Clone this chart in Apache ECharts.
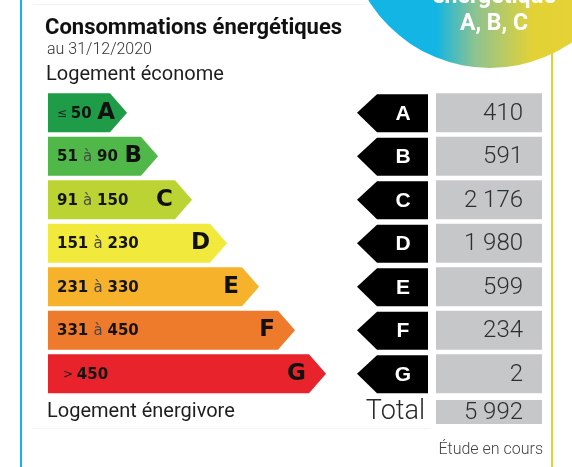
<!DOCTYPE html>
<html><head><meta charset="utf-8">
<script src="https://cdn.jsdelivr.net/npm/echarts@6/dist/echarts.min.js"></script>
<style>html,body{margin:0;padding:0;background:#fff}#c{width:572px;height:467px}</style>
</head><body><div id="c"></div>
<script>
// ---- data ----
const classes = ['A', 'B', 'C', 'D', 'E', 'F', 'G'];
const rangeText = ['≤ 50', '51 à 90', '91 à 150', '151 à 230', '231 à 330', '331 à 450', '> 450'];
const arrowLength = [79, 110, 144, 179, 211, 247, 278];   // relative length of each label arrow
const housingCount = [410, 591, 2176, 1980, 599, 234, 2];
const totalCount = 5992;
const classColors = ['#1e9c48', '#4fb848', '#bcd433', '#f1e93b', '#f6b22a', '#ee7a2b', '#e8232b'];
// style: inset of the class letter from the arrow tip
const letterInset = [12, 16, 19, 17, 20, 20, 20];

const fmt = n => String(n).replace(/\B(?=(\d{3})+(?!\d))/g, ' ');

function rangeRich(t) {
  const parts = t.split(' ');
  return parts.map((p, k) => {
    const sp = k < parts.length - 1 ? ' ' : '';
    if (p === 'à') return '{a|à' + sp + '}';
    if (p === '≤' || p === '>') return '{s|' + p + sp + '}';
    return '{n|' + p + sp + '}';
  }).join('');
}

const chart = echarts.init(document.getElementById('c'), null, {renderer: 'canvas'});

const option = {
  animation: false,
  backgroundColor: '#ffffff',
  grid: [
    {left: 48, top: 91, width: 280, height: 304.5},
    {left: 357, top: 91, width: 185, height: 304.5},
    {left: 436, top: 400, width: 106, height: 24}
  ],
  xAxis: [
    {gridIndex: 0, type: 'value', min: 0, max: 280, show: false},
    {gridIndex: 1, type: 'value', min: 0, max: 1, show: false},
    {gridIndex: 2, type: 'value', min: 0, max: 1, show: false}
  ],
  yAxis: [
    {gridIndex: 0, type: 'category', data: classes, inverse: true, show: false},
    {gridIndex: 1, type: 'category', data: classes, inverse: true, show: false},
    {gridIndex: 2, type: 'category', data: ['Total'], inverse: true,
      axisLine: {show: false}, axisTick: {show: false}, splitLine: {show: false},
      axisLabel: {margin: 11, fontFamily: 'Roboto', fontWeight: 300, fontSize: 27, color: '#2a2a2a'}}
  ],
  series: [
    {
      type: 'custom', xAxisIndex: 0, yAxisIndex: 0,
      data: arrowLength.map((v, i) => [v, i]),
      renderItem: function (params, api) {
        const i = api.value(1);
        const tip = api.coord([api.value(0), i]);
        const start = api.coord([0, i]);
        const h = api.size([0, 1])[1] * 0.9;
        const yc = tip[1], y0 = yc - h / 2, y1 = yc + h / 2;
        const xr = tip[0] - 17;
        const lead = (i === 6) ? 6 : 0;
        return {type: 'group', children: [
          {type: 'polygon', shape: {points: [[start[0], y0], [xr, y0], [tip[0], yc], [xr, y1], [start[0], y1]]},
            style: {fill: classColors[i]}},
          {type: 'text', style: {
            text: rangeRich(rangeText[i]), x: start[0] + 9 + lead, y: yc + 1, verticalAlign: 'middle',
            rich: {
              n: {fontFamily: 'DejaVu Sans', fontWeight: 'bold', fontSize: 15, fill: '#141414'},
              a: {fontFamily: 'DejaVu Sans', fontWeight: 'normal', fontSize: 15, fill: '#4a4a4a'},
              s: {fontFamily: 'DejaVu Sans', fontWeight: 'normal', fontSize: 12, fill: '#222'}
            }}},
          {type: 'text', style: {
            text: classes[i], x: tip[0] - letterInset[i], y: yc, align: 'right', verticalAlign: 'middle',
            fontFamily: 'DejaVu Sans', fontWeight: 'bold', fontSize: 23, fill: '#111'}}
        ]};
      }
    },
    {
      type: 'custom', xAxisIndex: 1, yAxisIndex: 1,
      data: housingCount.map((v, i) => [v, i]),
      renderItem: function (params, api) {
        const i = api.value(1);
        const cs = params.coordSys;
        const c = api.coord([0, i]);
        const h = api.size([0, 1])[1] * 0.9;
        const yc = c[1], y0 = yc - h / 2, y1 = yc + h / 2;
        const x0 = cs.x;
        return {type: 'group', children: [
          {type: 'polygon', shape: {points: [[x0, yc], [x0 + 20, y0 + 1], [x0 + 71, y0 + 1], [x0 + 71, y1], [x0 + 20, y1]]},
            style: {fill: '#000'}},
          {type: 'text', style: {text: classes[i], x: x0 + 46, y: yc + 1, align: 'center', verticalAlign: 'middle',
            fontFamily: 'Liberation Sans', fontWeight: 'bold', fontSize: 21, fill: '#fff'}},
          {type: 'rect', shape: {x: x0 + 79, y: y0, width: cs.width - 79, height: h},
            style: {fill: '#c6c7c9'}},
          {type: 'text', style: {text: fmt(api.value(0)), x: x0 + cs.width - 19, y: yc + 1, align: 'right', verticalAlign: 'middle',
            fontFamily: 'Roboto', fontWeight: 300, fontSize: 24, fill: '#2e2e2e'}}
        ]};
      }
    },
    {
      type: 'custom', xAxisIndex: 2, yAxisIndex: 2,
      data: [[totalCount, 0]],
      renderItem: function (params, api) {
        const cs = params.coordSys;
        return {type: 'group', children: [
          {type: 'rect', shape: {x: cs.x, y: cs.y, width: cs.width, height: cs.height}, style: {fill: '#c6c7c9'}},
          {type: 'text', style: {text: fmt(api.value(0)), x: cs.x + cs.width - 19, y: cs.y + cs.height / 2 + 1,
            align: 'right', verticalAlign: 'middle', fontFamily: 'Roboto', fontWeight: 300, fontSize: 24, fill: '#2e2e2e'}}
        ]};
      }
    }
  ],
  graphic: [
    {type: 'rect', shape: {x: 20, y: 0, width: 2, height: 467}, style: {fill: '#14b4e4'}, z: 1},
    {type: 'rect', shape: {x: 551, y: 40, width: 2, height: 427}, style: {fill: '#e2d030'}, z: 1},
    {type: 'line', shape: {x1: 33, y1: 4.5, x2: 365, y2: 4.5}, style: {stroke: '#f2f2f2', lineWidth: 1}, z: 1},
    {type: 'line', shape: {x1: 33, y1: 428.5, x2: 430, y2: 428.5}, style: {stroke: '#f4f4f4', lineWidth: 1}, z: 1},
    {type: 'circle', shape: {cx: 490, cy: -75, r: 143}, z: 2,
      style: {fill: new echarts.graphic.LinearGradient(0, 0, 1, 0, [
        {offset: 0, color: '#12b5e3'}, {offset: 0.31, color: '#12b5e3'},
        {offset: 0.45, color: '#8fc38f'}, {offset: 0.65, color: '#e3d236'}, {offset: 1, color: '#e5d335'}])}},
    {type: 'text', z: 3, style: {text: 'énergétique', x: 494, y: -3, align: 'center', verticalAlign: 'middle',
      fontFamily: 'Roboto', fontWeight: 'bold', fontSize: 23, fill: '#fff'}},
    {type: 'text', z: 3, style: {text: 'A, B, C', x: 494, y: 24, align: 'center', verticalAlign: 'middle',
      fontFamily: 'Roboto', fontWeight: 'bold', fontSize: 23, fill: '#fff'}},
    {type: 'text', z: 3, style: {text: 'Consommations énergétiques', x: 45, y: 28, verticalAlign: 'middle',
      fontFamily: 'Roboto', fontWeight: 'bold', fontSize: 22, fill: '#111'}},
    {type: 'text', z: 3, style: {text: 'au 31/12/2020', x: 47, y: 50, verticalAlign: 'middle',
      fontFamily: 'Roboto', fontWeight: 300, fontSize: 16, fill: '#333'}},
    {type: 'text', z: 3, style: {text: 'Logement économe', x: 46, y: 75, verticalAlign: 'middle',
      fontFamily: 'Roboto', fontWeight: 'normal', fontSize: 20, fill: '#1e1e1e'}},
    {type: 'text', z: 3, style: {text: 'Logement énergivore', x: 47, y: 412, verticalAlign: 'middle',
      fontFamily: 'Roboto', fontWeight: 'normal', fontSize: 20, fill: '#1e1e1e'}},
    {type: 'text', z: 3, style: {text: 'Étude en cours', x: 543, y: 450, align: 'right', verticalAlign: 'middle',
      fontFamily: 'Roboto', fontWeight: 300, fontSize: 16, fill: '#444'}}
  ]
};
chart.setOption(option);
</script>
</body></html>
